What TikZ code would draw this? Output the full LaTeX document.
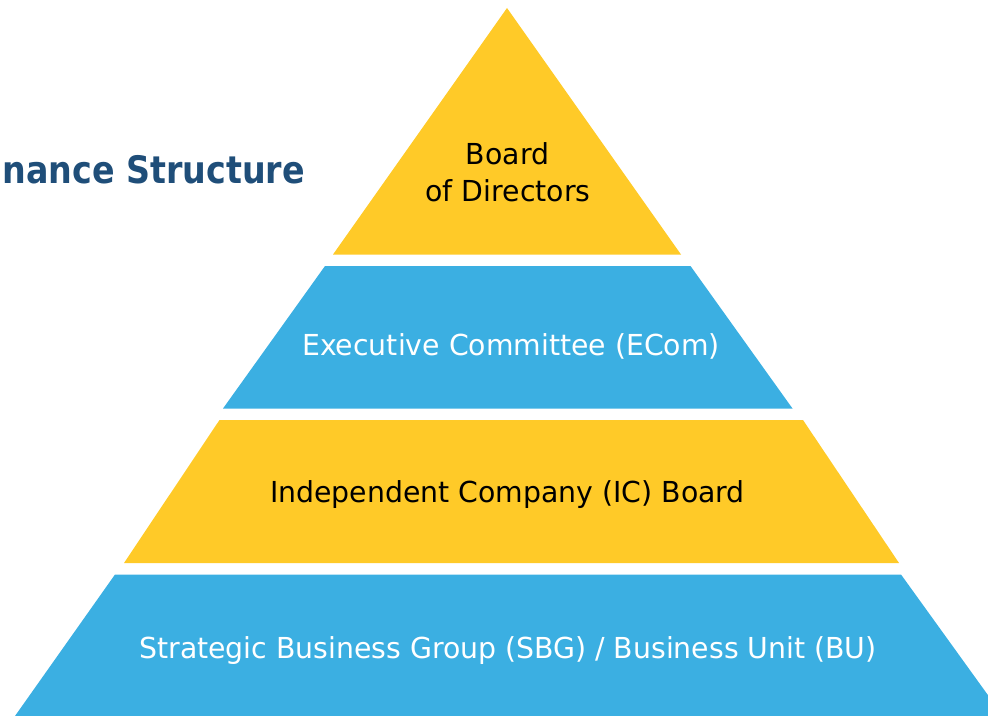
\documentclass[tikz,border=0pt]{standalone}
\usepackage{fontspec}
\setmainfont{DejaVu Sans}[FakeStretch=0.98]
\newfontfamily\titlefont{DejaVu Sans}[FakeStretch=0.88]
\definecolor{pyyellow}{HTML}{FFCA28}
\definecolor{pyblue}{HTML}{3BAFE2}
\definecolor{titleblue}{HTML}{1F4E79}
\tikzset{
  layer/.style={draw=none},
  lbl/.style={anchor=base, inner sep=0pt, font=\fontsize{29}{36}\selectfont},
  ttl/.style={anchor=base east, inner sep=0pt, text=titleblue, font=\titlefont\fontsize{38}{44}\selectfont\bfseries}
}
\begin{document}
\begin{tikzpicture}[x=1bp,y=-1bp]
\useasboundingbox (0,0) rectangle (988,716);
\clip (0,0) rectangle (988,716);
% layers
\fill[layer, pyyellow] (507,8) -- (681,254.5) -- (333,254.5) -- cycle;
\fill[layer, pyblue] (325,266) -- (690.5,266) -- (792.5,408.5) -- (223,408.5) -- cycle;
\fill[layer, pyyellow] (219.5,420) -- (803,420) -- (899,563) -- (124,563) -- cycle;
\fill[layer, pyblue] (115,574.5) -- (901,574.5) -- (1003,716) -- (15,716) -- cycle;
% labels
\node[lbl, text=black] (bod1) at (507.5,164.3) {Board};
\node[lbl, text=black] (bod2) at (508,201) {of Directors};
\node[lbl, text=white] (ecom) at (511,355.7) {Executive Committee (ECom)};
\node[lbl, text=black] (icb) at (507.5,502.3) {Independent Company (IC) Board};
\node[lbl, text=white] (sbg) at (508,658.3) {Strategic Business Group (SBG) / Business Unit (BU)};
% title
\node[ttl] (title) at (305,183.3) {nance Structure};
\end{tikzpicture}
\end{document}
